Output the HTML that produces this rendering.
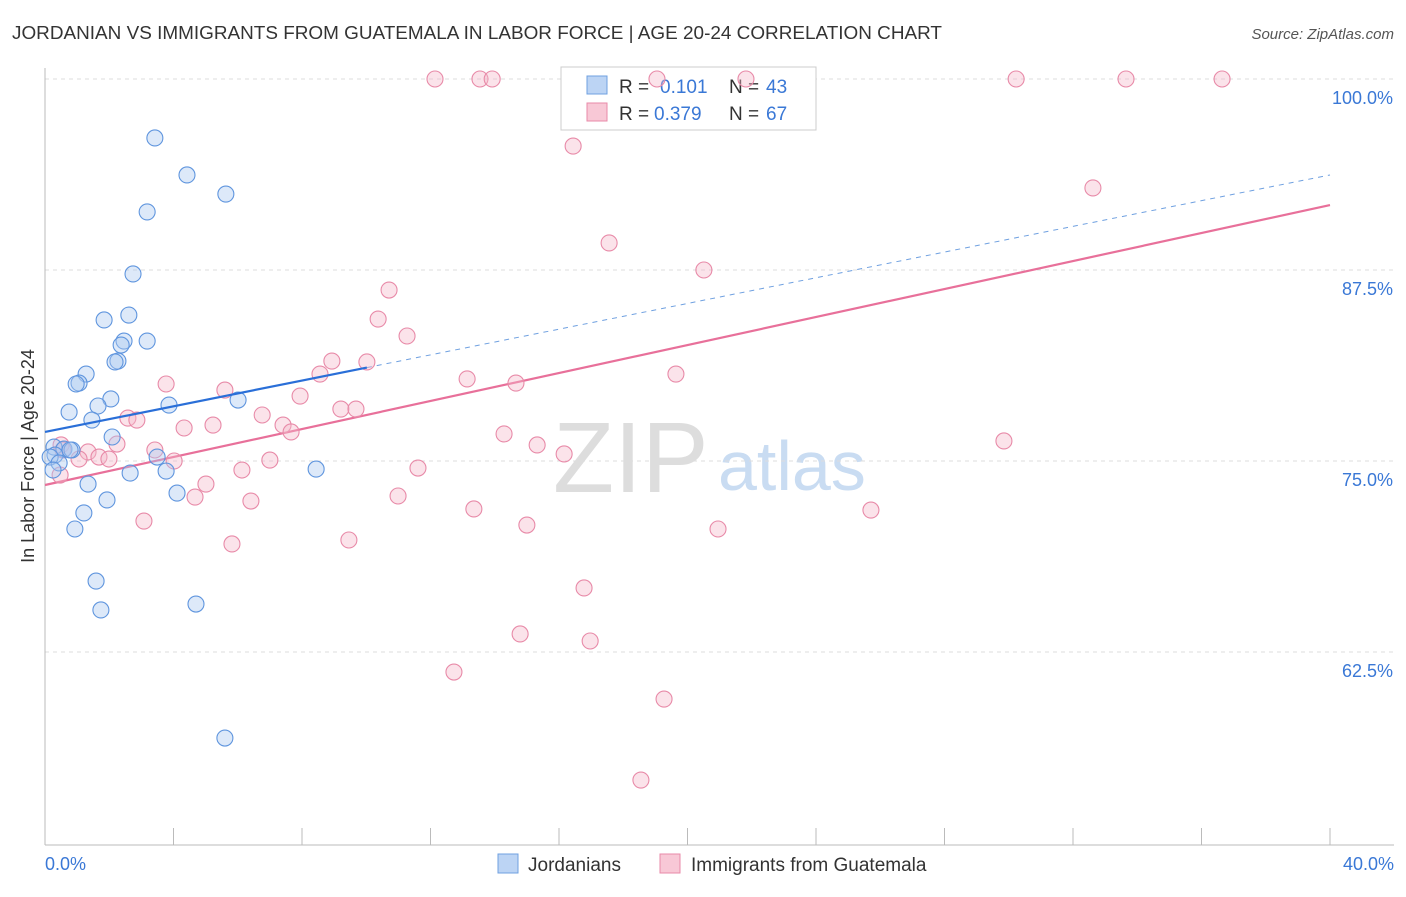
<!DOCTYPE html>
<html><head><meta charset="utf-8"><style>
body{margin:0;background:#fff;font-family:"Liberation Sans",sans-serif;}
svg text{font-family:"Liberation Sans",sans-serif;}
</style></head><body>
<svg width="1406" height="892">
<text x="12" y="39" font-size="18" fill="#333" textLength="930" lengthAdjust="spacingAndGlyphs">JORDANIAN VS IMMIGRANTS FROM GUATEMALA IN LABOR FORCE | AGE 20-24 CORRELATION CHART</text>
<text x="1394" y="39" font-size="15" fill="#555" font-style="italic" text-anchor="end">Source: ZipAtlas.com</text>
<text x="553" y="492" font-size="100" fill="#ddd" font-family="Liberation Serif">ZIP</text>
<text x="718" y="490" font-size="70" fill="#c9dcf2">atlas</text>
<g id="grid"></g>
<line x1="45" y1="68" x2="45" y2="845" stroke="#bbb"/>
<line x1="45" y1="845" x2="1394" y2="845" stroke="#bbb"/>
<g id="xticks"></g>
<text x="45" y="870" font-size="18" fill="#3a78d6">0.0%</text>
<text x="1394" y="870" font-size="18" fill="#3a78d6" text-anchor="end">40.0%</text>
<text transform="translate(34,456) rotate(-90)" font-size="18" fill="#333" text-anchor="middle">In Labor Force | Age 20-24</text>
<g>
<rect x="561" y="67" width="255" height="63" fill="#fff" stroke="#ccc"/>
<rect x="587" y="76" width="20" height="18" fill="#bcd4f4" stroke="#6fa0e0"/>
<text x="619" y="93" font-size="19" fill="#333">R =</text>
<text x="660" y="93" font-size="19" fill="#3a78d6">0.101</text>
<text x="729" y="93" font-size="19" fill="#333">N =</text>
<text x="766" y="93" font-size="19" fill="#3a78d6">43</text>
<rect x="587" y="103" width="20" height="18" fill="#f8c8d6" stroke="#e88aa8"/>
<text x="619" y="120" font-size="19" fill="#333">R =</text>
<text x="654" y="120" font-size="19" fill="#3a78d6">0.379</text>
<text x="729" y="120" font-size="19" fill="#333">N =</text>
<text x="766" y="120" font-size="19" fill="#3a78d6">67</text>
</g>
<g id="lines"></g>
<g id="pts"></g>
<g>
<rect x="498" y="854" width="20" height="19" fill="#bcd4f4" stroke="#6fa0e0"/>
<text x="528" y="871" font-size="19" fill="#333">Jordanians</text>
<rect x="660" y="854" width="20" height="19" fill="#f8c8d6" stroke="#e88aa8"/>
<text x="691" y="871" font-size="19" fill="#333">Immigrants from Guatemala</text>
</g>
</svg>
<script>
const yTicks=[100,87.5,75,62.5];
const yTickLabels=["100.0%","87.5%","75.0%","62.5%"];
const xTicks=[0,4,8,12,16,20,24,28,32,36,40];
const blueX=[3.42,4.42,3.18,5.63,2.74,2.61,1.84,2.46,3.18,2.37,2.27,2.18,1.28,1.06,0.97,2.05,1.65,3.86,6.01,0.75,1.46,2.09,0.28,0.59,0.84,0.31,0.16,3.49,0.44,0.25,3.77,2.65,8.44,1.34,4.11,1.93,1.21,0.93,1.59,1.74,4.70,5.60,0.78];
const blueY=[96.14,93.72,91.30,92.47,87.24,84.55,84.23,82.85,82.85,82.59,81.54,81.48,80.69,80.10,80.04,79.06,78.60,78.66,78.99,78.20,77.68,76.57,75.91,75.78,75.72,75.39,75.26,75.26,74.87,74.41,74.34,74.21,74.47,73.49,72.90,72.45,71.60,70.55,67.14,65.25,65.64,56.87,75.72];
const pinkX=[12.14,13.54,13.92,19.05,21.82,30.23,33.65,36.64,16.44,32.62,17.56,20.51,10.71,10.37,11.27,8.93,10.02,8.56,13.14,14.66,19.64,3.77,5.60,7.94,9.21,9.68,6.76,2.58,2.86,7.41,4.33,5.23,7.66,14.29,15.32,29.85,0.50,2.24,3.42,1.34,1.68,1.99,1.06,4.02,7.00,16.16,6.13,11.61,5.01,10.99,4.67,6.41,13.35,25.71,3.08,15.00,20.95,9.46,5.82,16.78,14.79,16.97,12.73,19.27,18.55,0.47,0.56];
const pinkY=[100,100,100,100,100,100,100,100,95.61,92.87,89.27,87.50,86.19,84.29,83.18,81.54,81.48,80.69,80.37,80.10,80.69,80.04,79.64,79.25,78.40,78.40,78.01,77.81,77.68,77.35,77.16,77.35,76.90,76.77,76.05,76.31,76.05,76.11,75.72,75.59,75.26,75.13,75.13,75.00,75.06,75.46,74.41,74.54,73.49,72.71,72.64,72.38,71.86,71.79,71.07,70.81,70.55,69.83,69.57,66.69,63.68,63.22,61.19,59.42,54.12,74.08,75.72];
const blueTrend=[76.90,93.72];
const pinkTrend=[73.43,91.75];
const blueSolidEnd=10.02;
const sx=v=>45+v/40*1285;
const sy=v=>79+(100-v)/12.5*191;
const NS="http://www.w3.org/2000/svg";
function mk(tag,attrs,parent){const e=document.createElementNS(NS,tag);for(const k in attrs)e.setAttribute(k,attrs[k]);document.getElementById(parent).appendChild(e);return e;}
yTicks.forEach((t,i)=>{
 const l=mk('line',{x1:45,x2:1394,y1:sy(t),y2:sy(t),stroke:'#ddd','stroke-dasharray':'4,4'},'grid');
 
 
 const tx=mk('text',{x:1393,y:sy(t)+25,'font-size':18,fill:'#3a78d6','text-anchor':'end'},'grid');
 tx.textContent=yTickLabels[i];
 
 
});
xTicks.forEach(t=>{
 const l=mk('line',{x1:sx(t),x2:sx(t),y1:828,y2:845,stroke:'#bbb'},'xticks');
 
 
});
function pts(xs,ys,fill,stroke,name){xs.forEach((x,i)=>{
 const c=mk('circle',{cx:sx(x),cy:sy(ys[i]),r:8,fill:fill,'fill-opacity':0.4,stroke:stroke,'stroke-width':1.1},'pts');
 
 
});}
pts(pinkX,pinkY,'#f5b8cb','#e88aa8','guatemala-point');
pts(blueX,blueY,'#a9c8f0','#5f95de','jordanian-point');
const bAt=x=>blueTrend[0]+(blueTrend[1]-blueTrend[0])*x/40;
const pAt=x=>pinkTrend[0]+(pinkTrend[1]-pinkTrend[0])*x/40;
let l1=mk('line',{x1:sx(blueSolidEnd),y1:sy(bAt(blueSolidEnd)),x2:sx(40),y2:sy(bAt(40)),stroke:'#6fa0e0','stroke-dasharray':'5,5','stroke-width':1},'lines');


let l2=mk('line',{x1:sx(0),y1:sy(pAt(0)),x2:sx(40),y2:sy(pAt(40)),stroke:'#e8709a','stroke-width':2.2},'lines');


let l3=mk('line',{x1:sx(0),y1:sy(bAt(0)),x2:sx(blueSolidEnd),y2:sy(bAt(blueSolidEnd)),stroke:'#2a6fd8','stroke-width':2.2},'pts');


</script>
</body></html>
